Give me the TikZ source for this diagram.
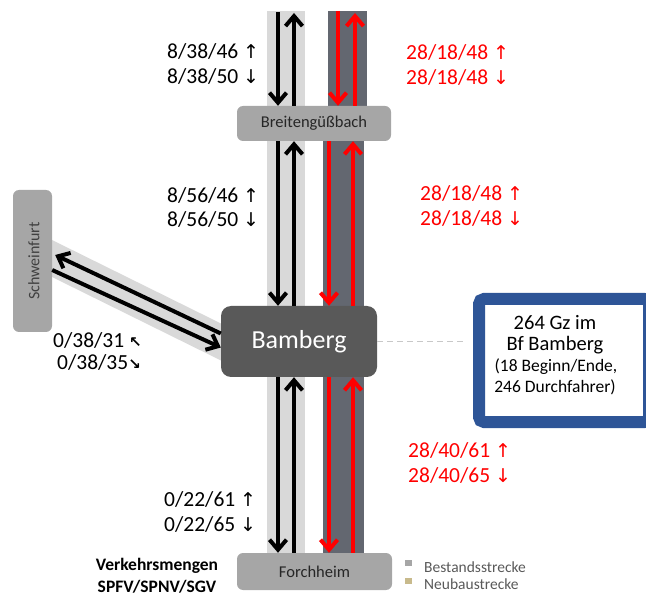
\documentclass[tikz,border=0pt]{standalone}
\usepackage{fontspec}
\setmainfont{Carlito}
\newfontfamily\arr{DejaVu Sans}
\usetikzlibrary{arrows.meta}
\definecolor{bandlight}{RGB}{217,217,217}
\definecolor{banddark}{RGB}{99,103,112}
\definecolor{stngray}{RGB}{166,166,166}
\definecolor{bamgray}{RGB}{89,89,89}
\definecolor{txtdark}{RGB}{38,38,38}
\definecolor{schtxt}{RGB}{64,64,64}
\definecolor{gzblue}{RGB}{46,85,151}
\definecolor{neutan}{RGB}{200,186,140}
\definecolor{legtxt}{RGB}{89,89,89}
\definecolor{dashgray}{RGB}{200,200,200}
\newcommand\aup{{\arr\fontsize{19}{19}\selectfont ↑}}
\newcommand\adn{{\arr\fontsize{19}{19}\selectfont ↓}}
\newcommand\anw{{\arr\bfseries\fontsize{15}{15}\selectfont ↖}}
\newcommand\ase{{\arr\bfseries\fontsize{15}{15}\selectfont ↘}}
\begin{document}
\begin{tikzpicture}[x=1pt,y=-1pt,
  lbl/.style={inner sep=0pt, anchor=base west, font=\fontsize{21.5}{24}\selectfont, text=black},
  rlbl/.style={lbl, text=red},
  stn/.style={fill=stngray, rounded corners=6pt, inner sep=0pt, text=txtdark, font=\fontsize{16.5}{20}\selectfont},
  blk/.style={line width=4pt, draw=black, -{Straight Barb[length=10pt,width=17pt]}},
  redarr/.style={blk, draw=red},
  gztext/.style={inner sep=0pt, text=black}
]
\useasboundingbox (0,0) rectangle (646,596);

% tracks
\fill[bandlight] (267,11) rectangle (305,553);
\fill[banddark] (328,11) rectangle (367,112);
\fill[banddark] (323,112) rectangle (364,553);
\fill[bandlight] (52,240) -- (222,324) -- (222,361) -- (52,277) -- cycle;

% stations
\node[stn, minimum width=154pt, minimum height=35pt] (brt) at (314,123.5) {Breitengüßbach};
\node[stn, minimum width=155pt, minimum height=37pt] (for) at (314.5,571.5) {Forchheim};
\node[fill=bamgray, rounded corners=10pt, minimum width=156pt, minimum height=71pt, inner sep=0pt,
      text=white, font=\fontsize{26}{30}\selectfont] (bam) at (299,341.5) {Bamberg};
\node[fill=stngray, rounded corners=6pt, minimum width=39pt, minimum height=142pt, inner sep=0pt] (sch) at (32.5,261) {};
\node[rotate=90, inner sep=0pt, text=schtxt, font=\fontsize{16}{19}\selectfont] (schl) at (34,261) {Schweinfurt};

% arrow x positions
\coordinate (xa) at (278,12);
\coordinate (xb) at (294,13);
\coordinate (xc) at (338,11);
\coordinate (xd) at (355,13);
\coordinate (xe) at (329,0);
\coordinate (xf) at (353,0);

% top segment
\draw[blk] (xa) -- (xa |- brt.north);
\draw[blk] (xb |- brt.north) -- (xb);
\draw[redarr] (xc) -- (xc |- brt.north);
\draw[redarr] (xd |- brt.north) -- (xd);
% middle segment
\draw[blk] (brt.south -| xa) -- (bam.north -| xa);
\draw[blk] (bam.north -| xb) -- (brt.south -| xb);
\draw[redarr] (brt.south -| xe) -- (bam.north -| xe);
\draw[redarr] (bam.north -| xf) -- (brt.south -| xf);
% bottom segment
\draw[blk] (bam.south -| xa) -- (for.north -| xa);
\draw[blk] (for.north -| xb) -- (bam.south -| xb);
\draw[redarr] (bam.south -| xe) -- (for.north -| xe);
\draw[redarr] (for.north -| xf) -- (bam.south -| xf);
% Schweinfurt
\draw[blk] ([yshift=8pt]bam.west) -- ([xshift=3pt,yshift=6pt]sch.east);
\draw[blk] ([yshift=-9pt]sch.east) -- ([yshift=-6pt]bam.west);

% info box
\node[draw=gzblue, line width=12pt, fill=white, rounded corners=5pt, minimum width=170pt,
      minimum height=123pt, inner sep=0pt] (gz) at (564,360.5) {};
\draw[dashgray, line width=1pt, dash pattern=on 6pt off 4pt, shorten >=6pt] (bam.east) -- (bam.east -| gz.west);
\node[gztext, font=\fontsize{20.5}{24}\selectfont] (g1) at (555,323) {264 Gz im};
\node[gztext, font=\fontsize{20.5}{24}\selectfont] (g2) at (555,345) {Bf Bamberg};
\node[gztext, font=\fontsize{17.5}{20}\selectfont] (g3) at (556,367) {(18 Beginn/Ende,};
\node[gztext, font=\fontsize{17.5}{20}\selectfont] (g4) at (555,387) {246 Durchfahrer)};

% labels
\node[lbl] (t1) at (167,58.5) {8/38/46 \aup};
\node[lbl] (t2) at (167,83.5) {8/38/50 \adn};
\node[rlbl] (r1) at (406,59.5) {28/18/48 \aup};
\node[rlbl] (r2) at (406,84.5) {28/18/48 \adn};
\node[lbl] (m1) at (167,202.5) {8/56/46 \aup};
\node[lbl] (m2) at (167,226.5) {8/56/50 \adn};
\node[rlbl] (r3) at (420,200.5) {28/18/48 \aup};
\node[rlbl] (r4) at (420,225.5) {28/18/48 \adn};
\node[lbl] (s1) at (53,347.5) {0/38/31 \anw};
\node[lbl] (s2) at (57,369.5) {0/38/35\ase};
\node[lbl] (b1) at (164,506.5) {0/22/61 \aup};
\node[lbl] (b2) at (164,531.5) {0/22/65 \adn};
\node[rlbl] (r5) at (408,457.5) {28/40/61 \aup};
\node[rlbl] (r6) at (408,482.5) {28/40/65 \adn};

% legend
\fill[stngray] (405,560) rectangle (412,566);
\fill[neutan] (405,578) rectangle (412,584);
\node[anchor=west, inner sep=0pt, text=legtxt, font=\fontsize{15.5}{18}\selectfont] (lg1) at (424,567) {Bestandsstrecke};
\node[anchor=west, inner sep=0pt, text=legtxt, font=\fontsize{15.5}{18}\selectfont] (lg2) at (424,584) {Neubaustrecke};
\node[align=center, inner sep=0pt, font=\bfseries\fontsize{17.5}{22}\selectfont] (vm) at (157,576) {Verkehrsmengen\\SPFV/SPNV/SGV};
\end{tikzpicture}
\end{document}
